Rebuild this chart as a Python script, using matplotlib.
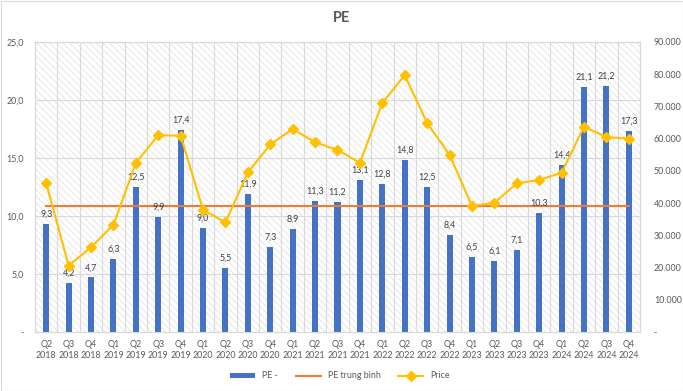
import matplotlib
matplotlib.use("Agg")
import matplotlib.pyplot as plt
from matplotlib.patches import Rectangle
import numpy as np

categories = ["Q2\n2018", "Q3\n2018", "Q4\n2018",
              "Q1\n2019", "Q2\n2019", "Q3\n2019", "Q4\n2019",
              "Q1\n2020", "Q2\n2020", "Q3\n2020", "Q4\n2020",
              "Q1\n2021", "Q2\n2021", "Q3\n2021", "Q4\n2021",
              "Q1\n2022", "Q2\n2022", "Q3\n2022", "Q4\n2022",
              "Q1\n2023", "Q2\n2023", "Q3\n2023", "Q4\n2023",
              "Q1\n2024", "Q2\n2024", "Q3\n2024", "Q4\n2024"]
pe = [9.3, 4.2, 4.7, 6.3, 12.5, 9.9, 17.4, 9.0, 5.5, 11.9, 7.3, 8.9, 11.3, 11.2,
      13.1, 12.8, 14.8, 12.5, 8.4, 6.5, 6.1, 7.1, 10.3, 14.4, 21.1, 21.2, 17.3]
pe_avg = 10.9
price = [46200, 20600, 26300, 33200, 52500, 61100, 60900, 37900, 34000, 49500,
         58200, 63000, 58900, 56500, 52500, 71100, 79700, 64900, 55000, 39100,
         40100, 46100, 47200, 49400, 63700, 60500, 60000]
left_ticks = [0, 5, 10, 15, 20, 25]
right_ticks = [0, 10000, 20000, 30000, 40000, 50000, 60000, 70000, 80000, 90000]

plt.rcParams['font.family'] = ['Lato', 'DejaVu Sans']
plt.rcParams['hatch.linewidth'] = 0.6
plt.rcParams['hatch.color'] = '#e3e3e3'
FS = 6.4

W, H = 683, 391
fig = plt.figure(figsize=(W / 100, H / 100), dpi=100)
ax = fig.add_axes([35 / W, 1 - 332 / H, (640 - 35) / W, (332 - 42) / H])
ax2 = ax.twinx()

n = len(categories)
x = np.arange(n)
ax.set_xlim(-0.5, n - 0.5)
ax.set_ylim(0, 25)
ax2.set_ylim(0, 90000)

ax.add_patch(Rectangle((0, 0), 1, 1, transform=ax.transAxes, facecolor='white',
                       hatch='\\\\\\\\\\', edgecolor='#e3e3e3', linewidth=0, zorder=0))

for yv in left_ticks[1:]:
    ax.axhline(yv, color='#d9d9d9', lw=0.8, zorder=1)
for xv in np.arange(-0.5, n, 1.0):
    ax.axvline(xv, color='#d9d9d9', lw=0.8, zorder=1)

bar_color = '#4472C4'
bars = ax.bar(x, pe, width=0.27, color=bar_color, zorder=3, label='PE -')
for xi, v in zip(x, pe):
    ax.text(xi, v + 0.45, f"{v:.1f}".replace('.', ','), ha='center', va='bottom',
            fontsize=FS, color='#404040', zorder=5)

avg_line, = ax.plot([x[0], x[-1]], [pe_avg, pe_avg], color='#ED7D31', lw=1.5, zorder=4,
                    label='PE trung bình')
price_line, = ax2.plot(x, price, color='#FFC000', lw=1.5, marker='D', markersize=5,
                       zorder=6, label='Price')

ax.set_yticks(left_ticks)
ax.set_yticklabels(['-' if t == 0 else f"{t:.1f}".replace('.', ',') for t in left_ticks])
ax2.set_yticks(right_ticks)
ax2.set_yticklabels(['-' if t == 0 else f"{t:,}".replace(',', '.') for t in right_ticks])
ax.set_xticks(x)
ax.set_xticklabels(categories, linespacing=1.3)
for a in (ax, ax2):
    a.tick_params(axis='both', length=0, labelsize=FS, labelcolor='#595959')
ax.tick_params(axis='y', pad=8)
ax2.tick_params(axis='y', pad=10)
ax.tick_params(axis='x', pad=6)
for a in (ax, ax2):
    for s in a.spines.values():
        s.set_color('#d9d9d9')
        s.set_linewidth(0.8)
ax.set_zorder(1)
ax2.set_zorder(2)
ax2.patch.set_visible(False)

fig.text(342 / W, 1 - 18 / H, 'PE', ha='center', va='center', fontsize=10.5,
         fontweight='bold', color='#595959')

fig.legend(handles=[bars, avg_line, price_line], labels=['PE -', 'PE trung bình', 'Price'],
           loc='center', bbox_to_anchor=(340 / W, 1 - 376 / H), ncol=3, frameon=False,
           fontsize=FS, labelcolor='#595959', handlelength=2.8, columnspacing=2.0,
           handleheight=0.5)

fig.patches.append(Rectangle((0.5 / W, 0.5 / H), 1 - 1 / W, 1 - 1 / H, transform=fig.transFigure,
                             fill=False, edgecolor='#d9d9d9', lw=0.8))

fig.savefig('out.png', dpi=100)
